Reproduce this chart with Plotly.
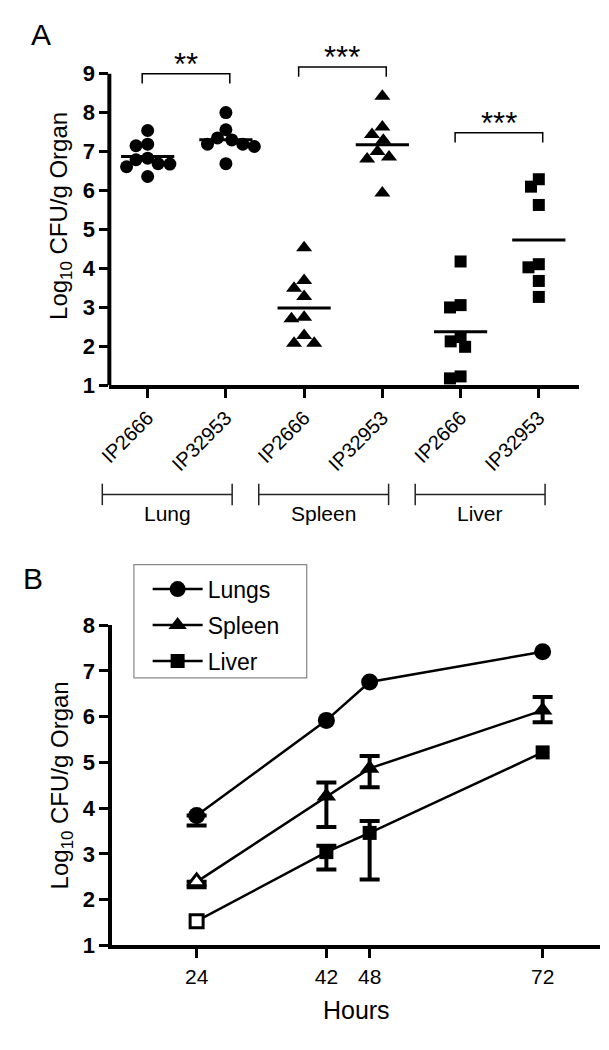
import math
import plotly.graph_objects as go

# ---------------- Panel A data ----------------
strain_labels = ["IP2666", "IP32953", "IP2666", "IP32953", "IP2666", "IP32953"]
organ_labels = ["Lung", "Spleen", "Liver"]
lung_ip2666 = [7.54, 7.19, 7.15, 6.83, 6.79, 6.68, 6.69, 6.61, 6.36]
lung_ip32953 = [8.00, 7.56, 7.35, 7.30, 7.19, 7.13, 7.19, 6.69]
spleen_ip2666 = [4.53, 3.69, 3.49, 3.28, 2.75, 2.71, 2.28, 2.08, 2.08]
spleen_ip32953 = [8.42, 7.63, 7.44, 7.29, 7.00, 6.86, 6.81, 5.94]
liver_ip2666 = [4.18, 3.06, 3.00, 2.24, 2.13, 1.99, 1.23, 1.18]
liver_ip32953 = [6.29, 6.10, 5.63, 4.11, 4.03, 3.68, 3.27]
significance = ["**", "***", "***"]

# ---------------- Panel B data ----------------
hours = [24, 42, 48, 72]
series_names = ["Lungs", "Spleen", "Liver"]
lungs_mean = [3.84, 5.92, 6.76, 7.42]
lungs_err_plus = [0.0, 0.0, 0.0, 0.0]
lungs_err_minus = [0.22, 0.0, 0.0, 0.0]
spleen_mean = [2.39, 4.26, 4.87, 6.14]
spleen_err_plus = [0.0, 0.30, 0.27, 0.29]
spleen_err_minus = [0.12, 0.67, 0.41, 0.26]
liver_mean = [1.53, 3.04, 3.46, 5.22]
liver_err_plus = [0.0, 0.14, 0.26, 0.0]
liver_err_minus = [0.0, 0.38, 1.02, 0.0]

# ---------------- layout geometry ----------------
W, H = 609, 1050
FONT = "Liberation Sans, Arial, Helvetica, sans-serif"

domA_x = [92 / W, 570 / W]
domA_y = [(H - 374.3) / H, (H - 27) / H]
rngA_x = [-0.49, 5.51]
rngA_y = [1, 9.7]

domB_x = [95 / W, 592 / W]
domB_y = [(H - 948) / H, (H - 620) / H]
rngB_x = [12.3, 80]
rngB_y = [1, 8]


def xa_paper(v):
    return domA_x[0] + (v - rngA_x[0]) / (rngA_x[1] - rngA_x[0]) * (domA_x[1] - domA_x[0])


px_per_cat = (domA_x[1] - domA_x[0]) * W / (rngA_x[1] - rngA_x[0])
px_per_unit = (domA_y[1] - domA_y[0]) * H / (rngA_y[1] - rngA_y[0])


def swarm_offsets(values, diam):
    order = sorted(range(len(values)), key=lambda k: -values[k])
    placed = []
    offs = [0.0] * len(values)
    for k in order:
        y = values[k] * px_per_unit
        cands = [0.0]
        for (px, py) in placed:
            dy = abs(py - y)
            if dy < diam:
                dx = math.sqrt(diam ** 2 - dy ** 2)
                cands += [px - dx, px + dx]
        cands.sort(key=abs)
        for c in cands:
            if all((c - px) ** 2 + (y - py) ** 2 >= diam ** 2 - 1e-6 for px, py in placed):
                offs[k] = c
                break
        placed.append((offs[k], y))
    return [o / px_per_cat for o in offs]


fig = go.Figure()

groupsA = [lung_ip2666, lung_ip32953, spleen_ip2666, spleen_ip32953, liver_ip2666, liver_ip32953]
symbolsA = ["circle", "circle", "triangle-up", "triangle-up", "square", "square"]
sizesA = [13, 13, 14, 14, 12, 12]

for i, vals in enumerate(groupsA):
    offs = swarm_offsets(vals, sizesA[i] - 1)
    fig.add_trace(go.Scatter(
        x=[i + o for o in offs], y=vals, mode="markers",
        marker=dict(symbol=symbolsA[i], size=sizesA[i], color="black", line=dict(width=0)),
        showlegend=False, xaxis="x", yaxis="y", cliponaxis=False))
    m = sum(vals) / len(vals)
    fig.add_trace(go.Scatter(
        x=[i - 0.34, i + 0.34], y=[m, m], mode="lines",
        line=dict(color="black", width=3), showlegend=False, xaxis="x", yaxis="y"))

shapes = []
annotations = []

# y axis line for panel A (axis range extended for brackets)
shapes.append(dict(type="line", xref="paper", yref="y", x0=domA_x[0], x1=domA_x[0], y0=1, y1=9,
                   line=dict(color="black", width=4)))

# significance brackets
bracket_spec = [(0, 1, 9.0), (2, 3, 9.17), (4, 5, 7.48)]
for (a, b, yb), lab in zip(bracket_spec, significance):
    x0, x1 = a - 0.07, b + 0.05
    drop = 0.25
    shapes.append(dict(type="path", xref="x", yref="y",
                       path=f"M {x0},{yb - drop} L {x0},{yb} L {x1},{yb} L {x1},{yb - drop}",
                       line=dict(color="black", width=1.5)))
    annotations.append(dict(x=(x0 + x1) / 2, y=yb, xref="x", yref="y", text=lab, showarrow=False,
                            xanchor="center", yanchor="bottom", yshift=-10,
                            font=dict(family=FONT, size=31, color="black")))

# organ group brackets under panel A
yg = (H - 486) / H
tick_h = 11 / H
for k, organ in enumerate(organ_labels):
    c0 = 2 * k - 0.58
    c1 = 2 * k + 1.08
    xp0, xp1 = xa_paper(c0), xa_paper(c1)
    shapes.append(dict(type="line", xref="paper", yref="paper", x0=xp0, x1=xp1, y0=yg, y1=yg,
                       line=dict(color="#222", width=1.5)))
    for xp in (xp0, xp1):
        shapes.append(dict(type="line", xref="paper", yref="paper", x0=xp, x1=xp, y0=yg - tick_h, y1=yg + tick_h,
                           line=dict(color="#222", width=1.5)))
    annotations.append(dict(x=(xp0 + xp1) / 2, y=yg - 6 / H, xref="paper", yref="paper", text=organ,
                            showarrow=False, xanchor="center", yanchor="top",
                            font=dict(family=FONT, size=21, color="black")))

# ---------------- Panel B ----------------
seriesB = [
    (series_names[0], lungs_mean, lungs_err_plus, lungs_err_minus, "circle", 17),
    (series_names[1], spleen_mean, spleen_err_plus, spleen_err_minus, "triangle-up", 17),
    (series_names[2], liver_mean, liver_err_plus, liver_err_minus, "square", 14),
]
hollow_first = [False, True, True]

for (name, mean, ep, em, sym, sz), hollow in zip(seriesB, hollow_first):
    idx = [j for j in range(len(hours)) if ep[j] > 0 or em[j] > 0]
    fig.add_trace(go.Scatter(
        x=[hours[j] for j in idx], y=[mean[j] for j in idx], mode="markers",
        marker=dict(size=1, color="rgba(0,0,0,0)"),
        error_y=dict(type="data", array=[ep[j] for j in idx], arrayminus=[em[j] for j in idx],
                     color="black", thickness=4, width=10),
        showlegend=False, xaxis="x2", yaxis="y2", hoverinfo="skip"))
    fig.add_trace(go.Scatter(
        x=hours, y=mean, mode="lines+markers", name=name, legendgroup=name,
        line=dict(color="black", width=2.5),
        marker=dict(symbol=sym, size=sz, color="black", line=dict(width=0)),
        xaxis="x2", yaxis="y2", cliponaxis=False))
    if hollow:
        fig.add_trace(go.Scatter(
            x=[hours[0]], y=[mean[0]], mode="markers",
            marker=dict(symbol=sym, size=sz - 1, color="white", line=dict(color="black", width=3)),
            showlegend=False, xaxis="x2", yaxis="y2", cliponaxis=False))

# legend frame
shapes.append(dict(type="rect", xref="paper", yref="paper", x0=117 / W, x1=293 / W,
                   y0=1 - 674 / H, y1=1 - 558 / H, line=dict(color="#888", width=1.2),
                   fillcolor="rgba(0,0,0,0)", layer="above"))

# panel labels
annotations.append(dict(x=22 / W, y=1 - 15 / H, xref="paper", yref="paper", text="A", showarrow=False,
                        xanchor="center", yanchor="middle",
                        font=dict(family=FONT, size=30, color="black")))
annotations.append(dict(x=14 / W, y=1 - 572 / H, xref="paper", yref="paper", text="B", showarrow=False,
                        xanchor="center", yanchor="middle",
                        font=dict(family=FONT, size=30, color="black")))

ytitle = "Log<sub>10</sub> CFU/g Organ"
tickfont_bold = dict(family="Liberation Sans, Arial", size=22, color="black", weight="bold")

fig.update_layout(
    width=W, height=H, autosize=False,
    margin=dict(l=0, r=0, t=0, b=0),
    paper_bgcolor="white", plot_bgcolor="white",
    font=dict(family=FONT, color="black"),
    shapes=shapes, annotations=annotations,
    xaxis=dict(domain=domA_x, range=rngA_x, tickvals=list(range(6)), ticktext=strain_labels,
               tickangle=-45, ticks="outside", ticklen=9, tickwidth=3, tickcolor="black",
               showline=True, linewidth=4, linecolor="black", showgrid=False, zeroline=False,
               tickfont=dict(family=FONT, size=20, color="black"), anchor="y"),
    yaxis=dict(domain=domA_y, range=rngA_y, tickvals=list(range(1, 10)),
               ticks="outside", ticklen=9, tickwidth=3, tickcolor="black",
               showline=False, showgrid=False, zeroline=False, tickfont=tickfont_bold, anchor="x",
               title=dict(text=ytitle, font=dict(family=FONT, size=24, color="black"), standoff=8)),
    xaxis2=dict(domain=domB_x, range=rngB_x, tickvals=hours, ticks="outside", ticklen=9, tickwidth=3,
                tickcolor="black", showline=True, linewidth=4, linecolor="black", showgrid=False,
                zeroline=False, tickfont=dict(family=FONT, size=21, color="black"), anchor="y2",
                title=dict(text="Hours", font=dict(family=FONT, size=25, color="black"), standoff=16)),
    yaxis2=dict(domain=domB_y, range=rngB_y, tickvals=list(range(1, 9)), ticks="outside", ticklen=9,
                tickwidth=3, tickcolor="black", showline=True, linewidth=4, linecolor="black",
                showgrid=False, zeroline=False, tickfont=tickfont_bold, anchor="x2",
                title=dict(text=ytitle, font=dict(family=FONT, size=24, color="black"), standoff=8)),
    legend=dict(x=131 / W, y=1 - 561 / H, xanchor="left", yanchor="top",
                borderwidth=0, bgcolor="rgba(0,0,0,0)",
                font=dict(family=FONT, size=23, color="black"), tracegroupgap=3, itemwidth=50),
)

fig.write_html("out.html")
